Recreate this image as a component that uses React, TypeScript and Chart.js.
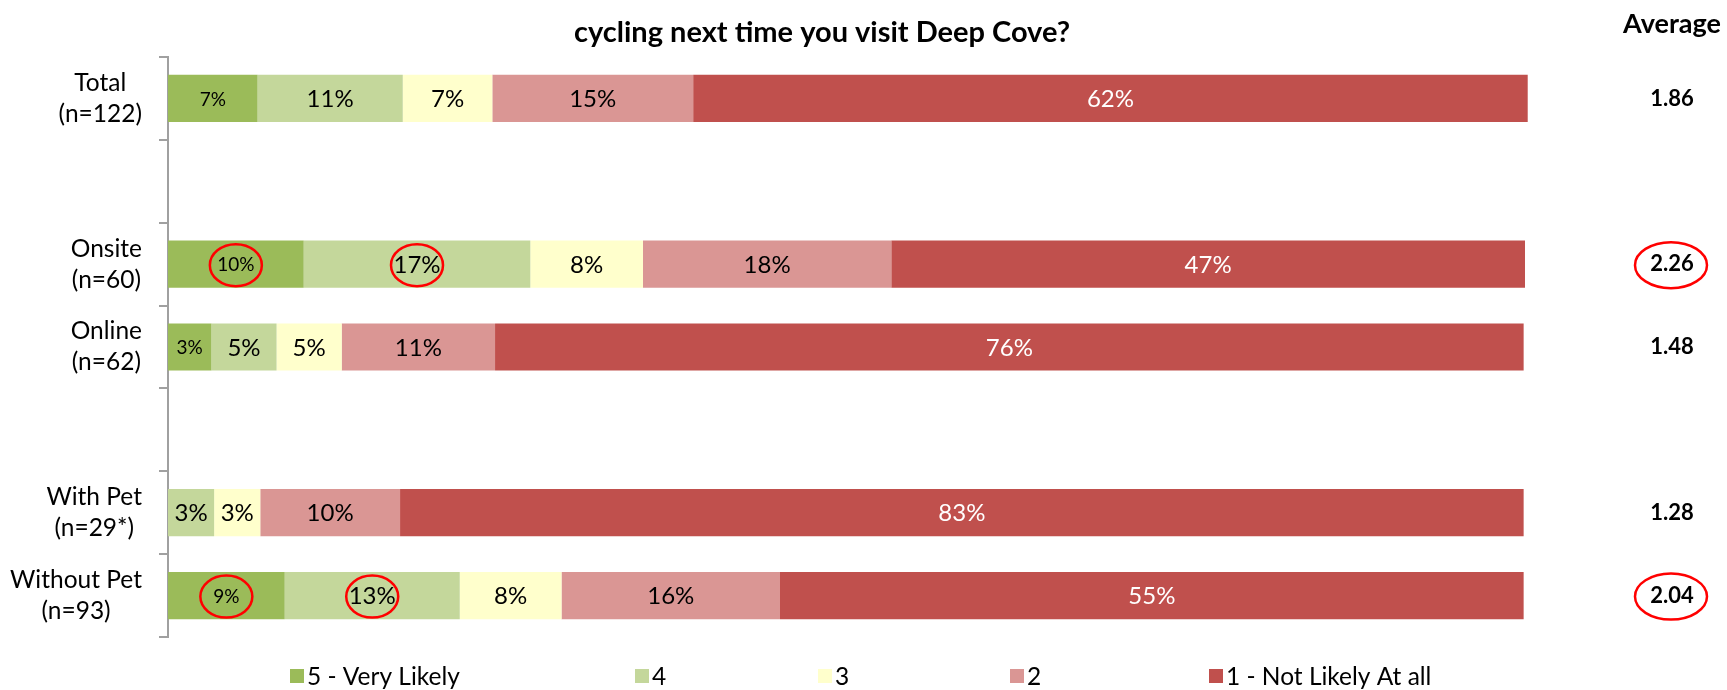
import React, { useEffect, useRef } from "react";
import { Chart, registerables } from "chart.js";

Chart.register(...registerables);

// ---------- data ----------
const categories = ["Total", "", "Onsite", "Online", "", "With Pet", "Without Pet"];
const sampleSizes = ["(n=122)", "", "(n=60)", "(n=62)", "", "(n=29*)", "(n=93)"];
const seriesNames = ["5 - Very Likely", "4", "3", "2", "1 - Not Likely At all"];
const seriesColors = ["#9BBB59", "#C4D79B", "#FFFFCC", "#DA9694", "#C0504D"];

const veryLikely = [6.6, null, 10.0, 3.2, null, 0, 8.6];
const likely4 = [10.7, null, 16.7, 4.8, null, 3.4, 12.9];
const neutral3 = [6.6, null, 8.3, 4.8, null, 3.4, 7.5];
const unlikely2 = [14.8, null, 18.3, 11.3, null, 10.3, 16.1];
const notLikely = [61.5, null, 46.7, 75.8, null, 82.8, 54.8];

const averages = [1.86, null, 2.26, 1.48, null, 1.28, 2.04];
const averageHeader = "Average";
const titleText = "cycling next time you visit Deep Cove?";

// [categoryIndex, seriesIndex] of circled data labels
const circledLabels: [number, number][] = [
  [2, 0],
  [2, 1],
  [6, 0],
  [6, 1],
];
const circledAverages = [2, 6];

const FONT = "Lato, 'Noto Sans', sans-serif";
const LEGEND_X = [290, 635, 818, 1010, 1209];

const allSeries = [veryLikely, likely4, neutral3, unlikely2, notLikely];

function ellipse(ctx: CanvasRenderingContext2D, cx: number, cy: number, rx: number, ry: number) {
  ctx.save();
  ctx.beginPath();
  ctx.ellipse(cx, cy, rx, ry, 0, 0, Math.PI * 2);
  ctx.strokeStyle = "#FF0000";
  ctx.lineWidth = 2.5;
  ctx.stroke();
  ctx.restore();
}

const overlayPlugin = {
  id: "overlay",
  afterDatasetsDraw(chart: any) {
    const ctx: CanvasRenderingContext2D = chart.ctx;
    ctx.save();
    ctx.textAlign = "center";
    ctx.textBaseline = "middle";
    chart.data.datasets.forEach((ds: any, di: number) => {
      const meta = chart.getDatasetMeta(di);
      meta.data.forEach((el: any, i: number) => {
        const v = ds.data[i];
        if (v == null) return;
        const r = Math.round(v);
        if (r === 0) return;
        const p = el.getProps(["x", "y", "base"], true);
        const cx = (p.x + p.base) / 2;
        ctx.font = `${di === 0 ? 19 : 24}px ${FONT}`;
        ctx.fillStyle = di === 4 ? "#FFFFFF" : "#000000";
        ctx.fillText(r + "%", cx, p.y + 1);
        if (circledLabels.some(([c, s]) => c === i && s === di)) {
          ellipse(ctx, cx, p.y + 1, 26, 21);
        }
      });
    });
    ctx.restore();
  },
  afterDraw(chart: any) {
    const ctx: CanvasRenderingContext2D = chart.ctx;
    const yScale = chart.scales.y;
    ctx.save();
    ctx.fillStyle = "#000000";

    // category labels (right-aligned block, centered lines)
    ctx.font = `24.5px ${FONT}`;
    ctx.textBaseline = "middle";
    ctx.textAlign = "center";
    const rightEdge = 142;
    categories.forEach((cat, i) => {
      if (!cat) return;
      const lines = [cat, sampleSizes[i]];
      const w = Math.max(...lines.map((l) => ctx.measureText(l).width));
      const cx = rightEdge - w / 2;
      const cy = yScale.getPixelForValue(i);
      ctx.fillText(lines[0], cx, cy - 15.5);
      ctx.fillText(lines[1], cx, cy + 15.5);
    });

    // title
    ctx.font = `bold 29px ${FONT}`;
    ctx.textAlign = "center";
    ctx.fillText(titleText, 822, 33);

    // average column
    const avgX = 1672;
    ctx.font = `bold 27px ${FONT}`;
    ctx.fillText(averageHeader, 1672, 24);
    ctx.font = `bold 22px ${FONT}`;
    averages.forEach((a, i) => {
      if (a == null) return;
      const cy = yScale.getPixelForValue(i);
      ctx.fillText(a.toFixed(2), avgX, cy);
      if (circledAverages.includes(i)) ellipse(ctx, avgX - 1, cy + 1, 36, 23);
    });

    // legend
    ctx.font = `24.5px ${FONT}`;
    ctx.textAlign = "left";
    const box = 14;
    const boxGap = 3;
    const ly = 676;
    seriesNames.forEach((n, i) => {
      const x = LEGEND_X[i];
      ctx.fillStyle = seriesColors[i];
      ctx.fillRect(x, ly - box / 2, box, box);
      ctx.fillStyle = "#000000";
      ctx.fillText(n, x + box + boxGap, ly + 1);
    });

    ctx.restore();
  },
};

export default function App() {
  const ref = useRef<HTMLCanvasElement | null>(null);

  useEffect(() => {
    document.body.style.margin = "0";
    if (!ref.current) return;
    const chart = new Chart(ref.current, {
      type: "bar",
      data: {
        labels: categories,
        datasets: allSeries.map((d, i) => ({
          label: seriesNames[i],
          data: d as any,
          backgroundColor: seriesColors[i],
          borderWidth: 0,
          categoryPercentage: 1,
          barPercentage: 0.57,
          clip: false as any,
        })),
      },
      options: {
        indexAxis: "y",
        responsive: false,
        animation: false,
        devicePixelRatio: 1,
        layout: { padding: { left: 159, right: 202, top: 57, bottom: 53 } },
        plugins: {
          legend: { display: false },
          title: { display: false },
          tooltip: { enabled: false },
        },
        scales: {
          x: {
            stacked: true,
            display: false,
            min: 0,
            max: 100,
          },
          y: {
            stacked: true,
            ticks: { display: false },
            grid: {
              display: true,
              drawOnChartArea: false,
              drawTicks: true,
              tickLength: 9,
              offset: true,
              color: "#A0A0A0",
              lineWidth: 2,
            },
            border: { display: true, color: "#A0A0A0", width: 2 },
            afterFit: (scale: any) => {
              scale.width = 9;
            },
          },
        },
      },
      plugins: [overlayPlugin],
    });
    return () => chart.destroy();
  }, []);

  return (
    <div style={{ width: 1727, height: 690, position: "relative" }}>
      <canvas ref={ref} width={1727} height={690} />
    </div>
  );
}
